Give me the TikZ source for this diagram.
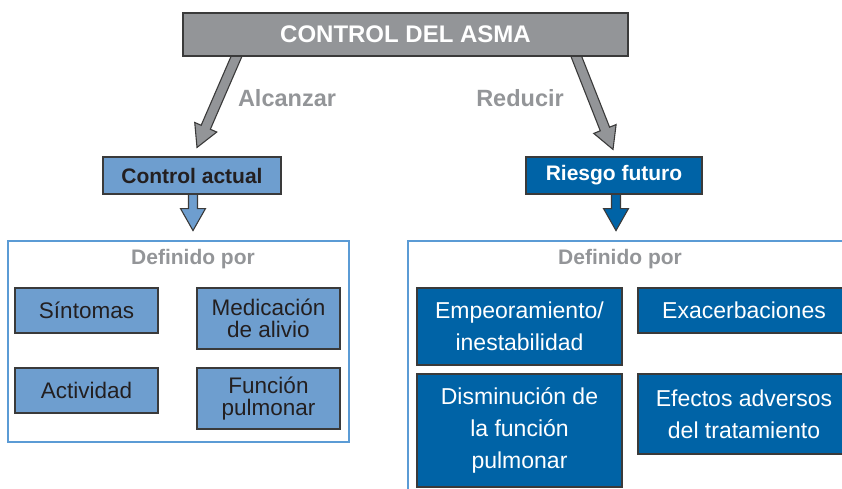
\documentclass[tikz,border=0pt]{standalone}
\usepackage{fontspec}
\setmainfont{Liberation Sans}
\usetikzlibrary{calc,backgrounds}
\definecolor{boxgray}{HTML}{939598}
\definecolor{edge}{HTML}{3A3A3A}
\definecolor{lblue}{HTML}{6E9ECF}
\definecolor{dblue}{HTML}{0063A6}
\definecolor{frameblue}{HTML}{5B9BD5}
\definecolor{txtgray}{HTML}{939598}
\definecolor{ink}{HTML}{231F20}
% #1 start, #2 tip, #3 fill, #4 shaft half width, #5 head half width, #6 head length
\newcommand\fatarrow[6]{%
  \path ($(#2)!#6!(#1)$) coordinate (fa-b);
  \draw[edge, line width=1.1pt, fill=#3, line join=miter]
    ($(#1)!#4!90:(#2)$) -- ($(fa-b)!#4!90:(#2)$) -- ($(fa-b)!#5!90:(#2)$) --
    (#2) -- ($(fa-b)!#5!-90:(#2)$) -- ($(fa-b)!#4!-90:(#2)$) --
    ($(#1)!#4!-90:(#2)$) -- cycle;}
\tikzset{
  box/.style={draw=edge, line width=1.1pt, inner sep=0pt, align=center},
  lbox/.style={box, fill=lblue, text=ink, font=\fontsize{22.5}{21.5}\selectfont},
  dbox/.style={box, fill=dblue, text=white, font=\fontsize{23}{31.7}\selectfont},
  frame/.style={draw=frameblue, line width=1.1pt, inner sep=0pt},
  graylabel/.style={text=txtgray, font=\bfseries\fontsize{23.5}{26}\selectfont},
}
\begin{document}
\begin{tikzpicture}[x=1pt,y=-1pt]
\useasboundingbox (0,0) rectangle (842,488);
\clip (0,0) rectangle (842,488);

% title
\node[box, fill=boxgray, text=white, font=\bfseries\fontsize{24}{27}\selectfont,
      minimum width=445, minimum height=43] (top) at (405.5,34.5) {CONTROL DEL ASMA};

\node[graylabel] (alc) at (287,98) {Alcanzar};
\node[graylabel] (red) at (520,98) {Reducir};

% second level
\node[box, fill=lblue, text=ink, font=\bfseries\fontsize{21}{24}\selectfont,
      minimum width=178, minimum height=37] (ca) at (192,175.5) {Control actual};
\node[box, fill=dblue, text=white, font=\bfseries\fontsize{21}{24}\selectfont,
      minimum width=176, minimum height=37] (rf) at (614,175.5) {Riesgo futuro};

% containers
\node[frame, minimum width=341, minimum height=201] (lf) at (178.5,341.5) {};
\node[frame, minimum width=452, minimum height=259] (rfr) at (634,370.5) {};
\node[text=txtgray, font=\bfseries\fontsize{21}{24}\selectfont] (ldp) at (193,259) {Definido por};
\node[text=txtgray, font=\bfseries\fontsize{21}{24}\selectfont] (rdp) at (620,259) {Definido por};

% left boxes
\node[lbox, minimum width=143, minimum height=45] (sin) at (86.5,310.5) {Síntomas};
\node[lbox, minimum width=143, minimum height=61] (med) at (268.5,318.5) {Medicación\\de alivio};
\node[lbox, minimum width=143, minimum height=45] (act) at (86.5,390.5) {Actividad};
\node[lbox, minimum width=143, minimum height=61] (fun) at (268.5,398.5) {Función\\pulmonar};

% right boxes
\node[dbox, minimum width=205, minimum height=77] (emp) at (519.5,326.5) {Empeoramiento/\\inestabilidad};
\node[dbox, minimum width=212, minimum height=45] (exa) at (744,310.5) {Exacerbaciones};
\node[dbox, minimum width=205, minimum height=113] (dis) at (519.5,430.5) {Disminución de\\la función\\pulmonar};
\node[dbox, minimum width=212, minimum height=80] (efe) at (744,414) {Efectos adversos\\del tratamiento};

% arrows
\begin{scope}[on background layer]
  \coordinate (s1) at ($(top.south west)!0.121!(top.south east)$);
  \coordinate (t1) at ($(ca.north)+(5,-9)$);
  \coordinate (s1b) at ($(s1)!-8pt!(t1)$);
  \fatarrow{s1b}{t1}{boxgray}{5pt}{12pt}{22pt}
  \coordinate (s2) at ($(top.south west)!0.883!(top.south east)$);
  \coordinate (t2) at ($(rf.north)+(-1,-7)$);
  \coordinate (s2b) at ($(s2)!-8pt!(t2)$);
  \fatarrow{s2b}{t2}{boxgray}{5pt}{12pt}{22pt}
  \coordinate (t3) at ($(ca.south)+(1,36)$);
  \coordinate (s3) at ($(ca.south)+(1,-4)$);
  \fatarrow{s3}{t3}{lblue}{4.5pt}{12.5pt}{22pt}
  \coordinate (t4) at ($(rf.south)+(2,36)$);
  \coordinate (s4) at ($(rf.south)+(2,-4)$);
  \fatarrow{s4}{t4}{dblue}{4.5pt}{12.5pt}{22pt}
\end{scope}
\end{tikzpicture}
\end{document}
